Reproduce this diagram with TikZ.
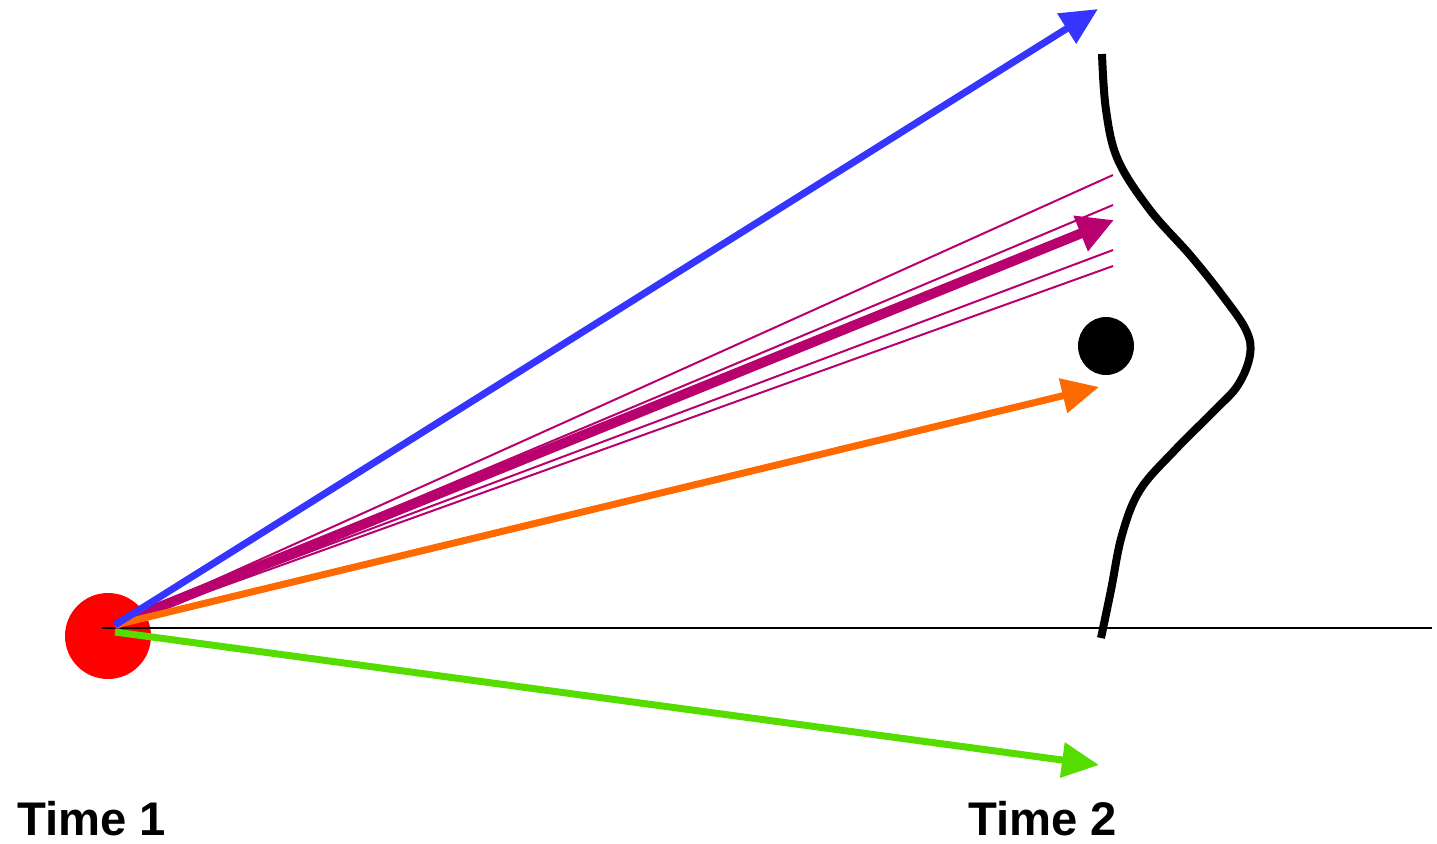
\documentclass[tikz,border=0pt]{standalone}
\usepackage{fontspec}
\setmainfont{Liberation Sans}
\usetikzlibrary{arrows.meta}
\definecolor{cblue}{HTML}{3535FF}
\definecolor{cmag}{HTML}{B8006E}
\definecolor{corange}{HTML}{FF6A00}
\definecolor{cgreen}{HTML}{55DD00}
\begin{document}
\begin{tikzpicture}[x=0.5pt,y=-0.5pt,
  bigarrow/.style={line width=3.5pt,-{Triangle[length=18.5pt,width=17pt]}},
  thinray/.style={draw=cmag,line width=1pt},
  lbl/.style={font=\bfseries\fontsize{23.6}{27}\selectfont,inner sep=0pt,anchor=base west}]
\useasboundingbox (0,0) rectangle (1437,843);
% red origin dot
\fill[red] (108,636) circle (43);
\coordinate (o) at (115,625);
\coordinate (og) at (115,632);
\coordinate (axisstart) at (102,628);
\coordinate (axisend) at (1432,628);
\draw[line width=1.3pt] (axisstart) -- (axisend);
% thin magenta rays
\coordinate (r1) at (1113,175);
\coordinate (r2) at (1113,205);
\coordinate (r3) at (1113,250);
\coordinate (r4) at (1113,266);
\draw[thinray] (o) -- (r1);
\draw[thinray] (o) -- (r2);
\draw[thinray] (o) -- (r3);
\draw[thinray] (o) -- (r4);
% arrows
\coordinate (tb) at (1098,9);
\coordinate (tm) at (1114,220);
\coordinate (to) at (1099,387);
\coordinate (tg) at (1099,765);
\draw[bigarrow,cmag,line width=5pt,-{Triangle[length=18pt,width=18pt]}] (o) -- (tm);
\draw[bigarrow,corange] (o) -- (to);
\draw[bigarrow,cblue] (o) -- (tb);
\draw[bigarrow,cgreen] (og) -- (tg);
% black dot
\fill[black] (1106,346) ellipse [x radius=28, y radius=29];
% distribution curve
\draw[line width=4pt] plot[smooth,tension=0.6] coordinates {
  (1102,54) (1106,110) (1118,160) (1150,210) (1190,255) (1222,295)
  (1246,330) (1250,355) (1238,385) (1215,410) (1175,450) (1140,490)
  (1122,535) (1111,590) (1101,638)};
% labels
\node[lbl] (t1) at (17,835) {Time 1};
\node[lbl] (t2) at (968,835) {Time 2};
\end{tikzpicture}
\end{document}
